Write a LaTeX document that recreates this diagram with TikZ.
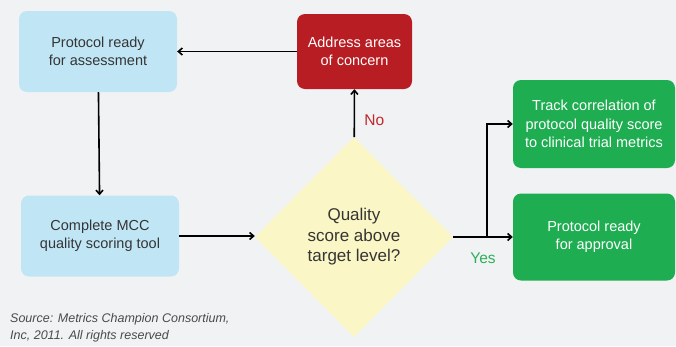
\documentclass[tikz,border=0pt]{standalone}
\usepackage{fontspec}
\setmainfont{Liberation Sans}
\usetikzlibrary{shapes.geometric,arrows.meta}

\definecolor{pagebg}{HTML}{F1F2F4}
\definecolor{stepblue}{HTML}{C0E6F6}
\definecolor{stepred}{HTML}{B71D23}
\definecolor{stepgreen}{HTML}{1FAD52}
\definecolor{decide}{HTML}{FAF6C5}
\definecolor{inktext}{HTML}{353535}
\definecolor{srctext}{HTML}{4A4A4A}
\definecolor{notext}{HTML}{C1272D}
\definecolor{yestext}{HTML}{2DB05B}

\begin{document}
\begin{tikzpicture}[x=1pt, y=-1pt,
  box/.style={rounded corners=8pt, inner sep=0pt, align=center,
    font=\fontsize{14.5}{18.3}\selectfont},
  bluebox/.style={box, fill=stepblue, text=inktext,
    minimum width=158pt, minimum height=81pt},
  redbox/.style={box, fill=stepred, text=white,
    minimum width=115pt, minimum height=75pt},
  greenbox/.style={box, fill=stepgreen, text=white,
    minimum width=162pt, minimum height=88pt},
  answer/.style={font=\fontsize{15.5}{18}\selectfont},
  arr/.style={-{Straight Barb[length=4pt,width=7pt]}, line width=1.6pt}]

\fill[pagebg] (0,0) rectangle (676,346);

% process boxes
\node (rd) [bluebox] at (98,51.5) {Protocol ready\\for assessment};
\node (cm) [bluebox] at (100,236) {Complete MCC\\quality scoring tool};
\node (ad) [redbox] at (354.5,51.5) {Address areas\\of concern};
\node (qs) [diamond, aspect=1, fill=decide, text=inktext, inner sep=0pt,
  minimum width=198pt, minimum height=200pt, align=center,
  font=\fontsize{17}{20.5}\selectfont] at (354,237)
  {Quality\\score above\\target level?};
\node (tr) [greenbox] at (594,124) {Track correlation of\\protocol quality score\\to clinical trial metrics};
\node (ap) [greenbox, minimum height=87pt] at (594,237) {Protocol ready\\for approval};

% connectors
\draw[arr] (ad) -- (rd);
\draw[arr] (rd) -- (cm);
\draw[arr] (cm.east) -- (cm.east -| qs.west);
\draw[arr] (qs) -- node[pos=0.35, right=6pt, text=notext, answer] (no) {No} (ad);
\draw[arr] (qs.east) -- node[below=12pt, text=yestext, answer] (yes) {Yes} (ap.west);
\coordinate (br) at (487,237);
\draw[arr] (br) |- (tr.west);

\node (src) [anchor=north west, align=left, inner sep=0pt, text=srctext,
  font=\fontsize{12.5}{17}\selectfont\itshape] at (10,313)
  {Source: Metrics Champion Consortium,\\Inc, 2011. All rights reserved};
\end{tikzpicture}
\end{document}
